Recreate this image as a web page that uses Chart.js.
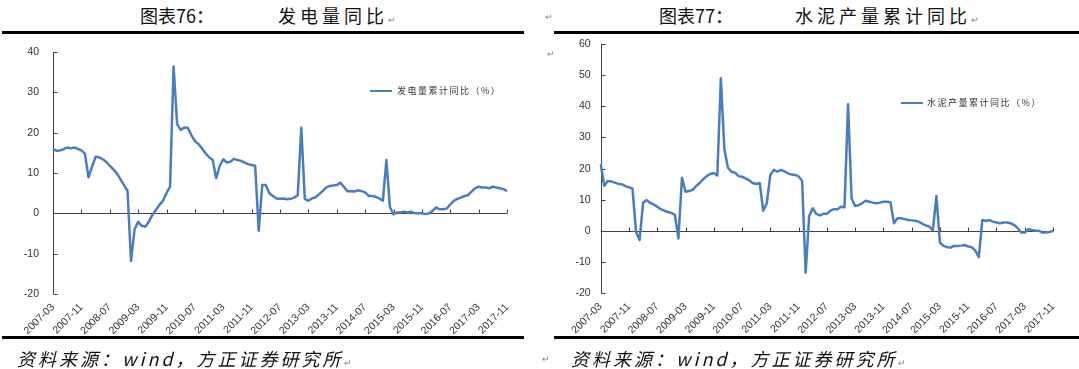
<!DOCTYPE html>
<html>
<head>
<meta charset="utf-8">
<script src="https://cdn.jsdelivr.net/npm/chart.js@4.4.1/dist/chart.umd.min.js"></script>
<style>
  body { margin: 0; width: 1079px; height: 369px; background: #fff; position: relative; overflow: hidden;
         font-family: "Noto Sans CJK SC", sans-serif; }
  .abs { position: absolute; white-space: nowrap; }
  canvas { position: absolute; top: 0; }
  .rule { position: absolute; height: 3px; background: #000; }
  .title { font-size: 18px; line-height: 18px; color: #111; }
  .title .sp { letter-spacing: 4px; }
  .src { font-size: 18px; line-height: 18px; font-style: italic; letter-spacing: 3px; color: #111; }
  .mark { font-size: 9px; line-height: 9px; color: #888; font-style: normal; letter-spacing: 0; }
  .legend { font-size: 9px; line-height: 10px; letter-spacing: 1.5px; color: #333; }
  .swatch { position: absolute; height: 2.5px; background: #4a7dbb; }
</style>
</head>
<body>
<!-- left panel -->
<div class="abs title" style="left:140px;top:6px">图表76：</div>
<div class="abs title" style="left:278px;top:6px"><span class="sp">发电量同比</span><span class="mark">↵</span></div>
<div class="rule" style="left:2px;width:522px;top:31px"></div>
<canvas id="power" width="540" height="369" style="left:0"></canvas>
<div class="swatch" style="left:370px;width:22px;top:89.5px"></div>
<div class="abs legend" style="left:397px;top:86px">发电量累计同比（%）</div>
<div class="rule" style="left:2px;width:522px;top:336px"></div>
<div class="abs src" style="left:17px;top:349px">资料来源：wind，方正证券研究所<span class="mark">↵</span></div>

<!-- right panel -->
<div class="abs mark" style="left:545px;top:12px">↵</div>
<div class="abs title" style="left:659px;top:6px">图表77：</div>
<div class="abs title" style="left:795px;top:6px"><span class="sp">水泥产量累计同比</span><span class="mark">↵</span></div>
<div class="rule" style="left:554px;width:525px;top:31px"></div>
<div class="abs mark" style="left:547px;top:49px">↵</div>
<canvas id="cement" width="539" height="369" style="left:540px"></canvas>
<div class="swatch" style="left:901px;width:22px;top:101.5px"></div>
<div class="abs legend" style="left:927px;top:98px">水泥产量累计同比（%）</div>
<div class="rule" style="left:554px;width:525px;top:336px"></div>
<div class="abs mark" style="left:542px;top:354px">↵</div>
<div class="abs src" style="left:571px;top:349px">资料来源：wind，方正证券研究所<span class="mark">↵</span></div>

<script>
// monthly categories 2007-03 .. 2017-11
const months = [];
for (let y = 2007, m = 3; y < 2017 || (y === 2017 && m <= 11); m++) {
  if (m > 12) { m = 1; y++; }
  months.push(y + '-' + String(m).padStart(2, '0'));
}

const axisLabels = ['2007-03', '2007-11', '2008-07', '2009-03', '2009-11', '2010-07', '2011-03', '2011-11',
  '2012-07', '2013-03', '2013-11', '2014-07', '2015-03', '2015-11', '2016-07', '2017-03', '2017-11'];

// 发电量累计同比 (%)
const powerYoY = [
  16.0, 15.5, 15.6, 15.9, 16.3, 16.1, 16.3, 16.0, 15.6, 14.8,
  8.9, 11.5, 14.0, 13.9, 13.4, 12.8, 11.8, 10.9, 9.9, 8.5,
  7.0, 5.6, -11.8, -4.0, -2.1, -3.1, -3.3, -2.1, -0.4, 0.8,
  2.1, 3.1, 5.0, 6.6, 36.4, 22.1, 20.7, 21.3, 21.2, 19.4,
  17.9, 17.2, 16.1, 14.9, 13.9, 13.3, 8.7, 11.8, 13.4, 12.6,
  12.8, 13.5, 13.2, 13.0, 12.6, 12.2, 12.0, 11.8, -4.3, 7.0,
  7.0, 5.0, 4.3, 3.7, 3.6, 3.7, 3.5, 3.6, 3.9, 4.5,
  21.2, 3.6, 3.1, 3.7, 4.0, 4.7, 5.5, 6.4, 6.8, 6.9,
  7.0, 7.6, 6.6, 5.5, 5.5, 5.4, 5.7, 5.5, 5.2, 4.3,
  4.3, 4.1, 3.7, 3.1, 13.2, 1.5, -0.2, 0.2, 0.2, 0.4,
  0.2, 0.4, 0.0, 0.0, 0.0, -0.2, 0.0, 0.6, 1.5, 1.0,
  1.0, 1.2, 2.2, 3.1, 3.6, 3.9, 4.3, 4.5, 5.4, 6.2,
  6.6, 6.4, 6.4, 6.2, 6.6, 6.4, 6.2, 6.0, 5.5
];

// 水泥产量累计同比 (%)
const cementYoY = [
  21.5, 14.5, 16.0, 15.9, 15.5, 15.1, 15.0, 14.4, 14.0, 13.6,
  -0.3, -2.9, 9.1, 9.9, 9.0, 8.5, 7.8, 7.0, 6.5, 6.1,
  5.8, 5.2, -2.4, 17.1, 12.6, 12.8, 13.2, 14.4, 15.4, 16.6,
  17.6, 18.3, 18.6, 17.8, 49.0, 26.2, 20.3, 19.0, 18.7, 17.6,
  17.4, 16.9, 16.3, 15.4, 15.1, 15.4, 6.5, 8.9, 18.0, 19.6,
  19.0, 19.6, 19.1, 18.5, 18.1, 18.0, 17.5, 16.1, -13.4, 4.8,
  7.3, 5.5, 5.0, 5.5, 5.5, 6.5, 7.0, 7.0, 7.8, 7.6,
  40.7, 10.5, 8.0, 8.3, 8.9, 9.7, 9.4, 9.1, 8.9, 9.1,
  9.4, 9.4, 9.2, 2.5, 4.1, 4.1, 3.8, 3.5, 3.4, 3.3,
  3.0, 2.3, 1.8, 1.4, 0.2, 11.2, -3.7, -4.8, -5.2, -5.3,
  -4.8, -4.8, -4.7, -4.5, -5.0, -5.2, -6.3, -8.4, 3.5, 3.2,
  3.5, 3.0, 2.7, 2.5, 2.7, 2.7, 2.5, 1.9, 0.9, -0.5,
  -0.5, 0.6, 0.3, 0.1, 0.1, -0.5, -0.5, -0.3, 0.0
];

const AXIS = '#404040';

// Excel style axes: y axis line with inner ticks, x axis line at 0 with upward ticks
const axisMarks = {
  id: 'axisMarks',
  beforeDatasetsDraw(chart) {
    const { ctx, chartArea: a, scales: { x, y } } = chart;
    ctx.save();
    ctx.strokeStyle = AXIS;
    ctx.lineWidth = 1;
    ctx.beginPath();
    const x0 = Math.round(a.left) + 0.5;
    ctx.moveTo(x0, a.top);
    ctx.lineTo(x0, a.bottom);
    y.ticks.forEach(t => {
      const py = Math.round(y.getPixelForValue(t.value)) + 0.5;
      ctx.moveTo(x0, py);
      ctx.lineTo(x0 + 4, py);
    });
    const z = Math.round(y.getPixelForValue(0)) + 0.5;
    ctx.moveTo(a.left, z);
    ctx.lineTo(a.right, z);
    months.forEach((m, i) => {
      if (!axisLabels.includes(m)) return;
      const px = Math.round(x.getPixelForValue(i)) + 0.5;
      ctx.moveTo(px, z);
      ctx.lineTo(px, z - 4);
    });
    ctx.stroke();
    ctx.restore();
  }
};

function makeChart(id, values, label, yMax, box) {
  new Chart(document.getElementById(id), {
    type: 'line',
    data: {
      labels: months,
      datasets: [{
        label: label,
        data: values,
        borderColor: '#4a7dbb',
        borderWidth: 2.5,
        pointRadius: 0,
        tension: 0,
        borderJoinStyle: 'round'
      }]
    },
    options: {
      responsive: false,
      animation: false,
      layout: { padding: { left: 0, right: box.right, top: box.top, bottom: 0 } },
      plugins: { legend: { display: false }, tooltip: { enabled: false } },
      scales: {
        x: {
          grid: { display: false, drawTicks: false },
          border: { display: false },
          afterFit: s => { s.height = box.xh; },
          ticks: {
            autoSkip: false,
            minRotation: 45,
            maxRotation: 45,
            padding: 7,
            color: '#333',
            font: { family: 'Liberation Sans', size: 10.5 },
            callback: (v, i) => axisLabels.includes(months[i]) ? months[i] : null
          }
        },
        y: {
          min: -20,
          max: yMax,
          grid: { display: false, drawTicks: false },
          border: { display: false },
          afterFit: s => { s.width = box.yw; },
          ticks: {
            stepSize: 10,
            padding: box.pad,
            color: '#333',
            font: { family: 'Liberation Sans', size: 10.5 }
          }
        }
      }
    },
    plugins: [axisMarks]
  });
}

makeChart('power', powerYoY, '发电量累计同比（%）', 40, { yw: 53, right: 33, top: 52, xh: 75, pad: 14 });
makeChart('cement', cementYoY, '水泥产量累计同比（%）', 60, { yw: 60.7, right: 26, top: 44, xh: 75.7, pad: 10 });
</script>
</body>
</html>
